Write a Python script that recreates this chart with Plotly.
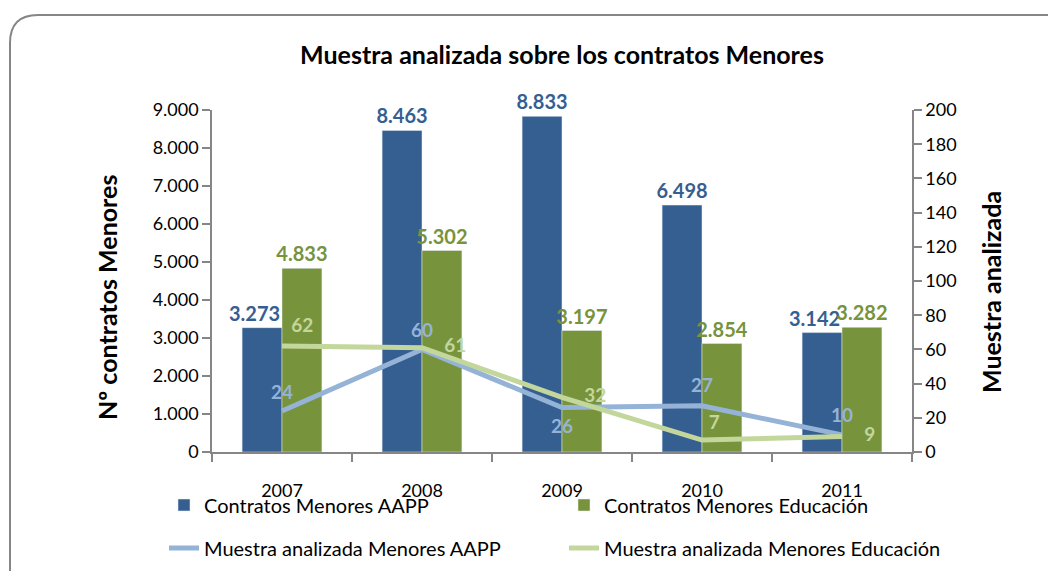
import plotly.graph_objects as go

years = ["2007", "2008", "2009", "2010", "2011"]
contratos_aapp = [3273, 8463, 8833, 6498, 3142]
contratos_edu = [4833, 5302, 3197, 2854, 3282]
muestra_aapp = [24, 60, 26, 27, 10]
muestra_edu = [62, 61, 32, 7, 9]

C_AAPP = "#365F91"
C_EDU = "#77933C"
L_AAPP = "#95B3D7"
L_EDU = "#C3D69B"
AXIS = "#868686"
FONT = "Lato"

# page body adds an 8px offset; figure coordinates = screen - 8
OFF = 8
W, H = 1056 - OFF, 571 - OFF
L, R, T, B = 212 - OFF, 912 - OFF, 110 - OFF, 452 - OFF

def X(sx):
    return (sx - OFF - L) / (R - L)

def Y(sy):
    return (B - (sy - OFF)) / (B - T)

# labels of AAPP bars next to a taller neighbour are nudged left (as in the original)
aapp_tpl = ["%{y:,d}\u2003", "%{y:,d}", "%{y:,d}", "%{y:,d}", "%{y:,d}\u2003"]

fig = go.Figure()

fig.add_trace(go.Bar(
    x=years, y=contratos_aapp, name="Contratos Menores AAPP",
    marker=dict(color=C_AAPP), texttemplate=aapp_tpl, textposition="outside",
    textfont=dict(color=C_AAPP, size=20, family=FONT, weight="bold"),
    constraintext="none", cliponaxis=False, legend="legend",
))
fig.add_trace(go.Bar(
    x=years, y=contratos_edu, name="Contratos Menores Educación",
    marker=dict(color=C_EDU), texttemplate="%{y:,d}", textposition="outside",
    textfont=dict(color=C_EDU, size=20, family=FONT, weight="bold"),
    constraintext="none", cliponaxis=False, legend="legend",
))
fig.add_trace(go.Scatter(
    x=years, y=muestra_aapp, name="Muestra analizada Menores AAPP",
    yaxis="y2", mode="lines+markers+text", line=dict(color=L_AAPP, width=5),
    marker=dict(size=[10, 10, 17, 13, 12], color="rgba(0,0,0,0)",
                line=dict(width=0, color="rgba(0,0,0,0)")),
    text=[str(v) for v in muestra_aapp],
    textposition=["top center", "top center", "bottom center", "top center", "top center"],
    textfont=dict(color=L_AAPP, size=19, family=FONT, weight="bold"),
    cliponaxis=False, legend="legend2",
))
fig.add_trace(go.Scatter(
    x=years, y=muestra_edu, name="Muestra analizada Menores Educación",
    yaxis="y2", mode="lines+markers+text", line=dict(color=L_EDU, width=5),
    marker=dict(size=[13, 34, 34, 9, 34], color="rgba(0,0,0,0)",
                line=dict(width=0, color="rgba(0,0,0,0)")),
    text=[str(v) for v in muestra_edu],
    textposition=["top right", "middle right", "middle right", "top right", "middle right"],
    textfont=dict(color=L_EDU, size=19, family=FONT, weight="bold"),
    cliponaxis=False, legend="legend2",
))

border = (
    f"M {X(10)},{Y(620)} L {X(10)},{Y(15+28)} "
    f"Q {X(10)},{Y(15)} {X(10+28)},{Y(15)} L {X(1120)},{Y(15)}"
)

axis_common = dict(showline=True, linecolor=AXIS, linewidth=1.5, ticks="outside",
                   ticklen=8, tickcolor=AXIS, tickwidth=1.5, showgrid=False,
                   automargin=False, tickfont=dict(size=18))

fig.update_layout(
    width=W, height=H,
    margin=dict(l=L, r=W - R, t=T, b=H - B, autoexpand=False),
    paper_bgcolor="white", plot_bgcolor="white",
    separators=",.",
    font=dict(family=FONT, size=18, color="black"),
    barmode="group", bargap=0.43, bargroupgap=0,
    title=dict(text="<b>Muestra analizada sobre los contratos Menores</b>",
               x=0.5, xref="paper", y=1 - (55 - OFF) / H, yanchor="middle",
               font=dict(size=25, family=FONT, color="black")),
    xaxis=dict(type="category", tickson="boundaries", ticklabelstandoff=22,
               **axis_common),
    yaxis=dict(range=[0, 9000], dtick=1000, tickformat=",d", zeroline=False,
               **axis_common),
    yaxis2=dict(range=[0, 200], dtick=20, overlaying="y", side="right",
                zeroline=False, **axis_common),
    annotations=[
        dict(text="<b>N\u00ba contratos Menores</b>", textangle=-90,
             xref="paper", yref="paper", x=X(107), y=Y(298),
             xanchor="center", yanchor="middle", showarrow=False,
             font=dict(size=25, family=FONT, color="black")),
        dict(text="<b>Muestra analizada</b>", textangle=-90,
             xref="paper", yref="paper", x=X(991), y=Y(292),
             xanchor="center", yanchor="middle", showarrow=False,
             font=dict(size=25, family=FONT, color="black")),
    ],
    legend=dict(orientation="h", x=X(164), y=Y(505), xanchor="left",
                yanchor="middle", entrywidth=355, entrywidthmode="pixels",
                font=dict(size=20), bgcolor="rgba(0,0,0,0)"),
    legend2=dict(orientation="h", x=X(164), y=Y(548), xanchor="left",
                 yanchor="middle", entrywidth=355, entrywidthmode="pixels",
                 font=dict(size=20), bgcolor="rgba(0,0,0,0)"),
    shapes=[dict(type="path", xref="paper", yref="paper", path=border,
                 line=dict(color=AXIS, width=2), layer="below")],
)

fig.write_html("out.html")
